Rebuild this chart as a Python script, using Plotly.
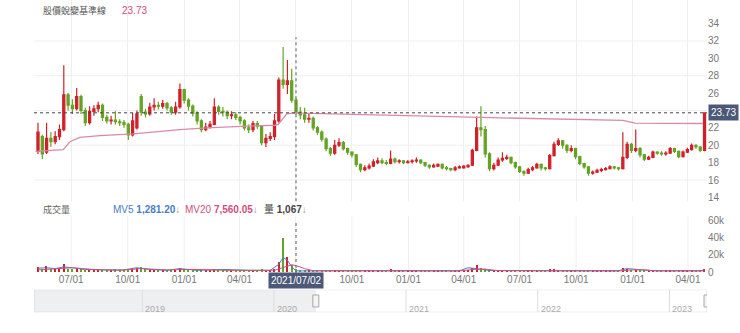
import pandas as pd
import plotly.graph_objects as go

W, H = 740, 333

# ---------------- data (weekly samples) ----------------
dates = pd.date_range("2020-05-08", periods=156, freq="7D")

opens = [19.3, 21.0, 19.2, 20.8, 20.4, 21.0, 21.8, 25.8, 24.6, 24.2,
         25.6, 24.0, 22.6, 23.9, 24.2, 24.6, 23.2, 22.8, 22.9, 22.7,
         22.6, 22.4, 21.2, 22.0, 25.6, 23.8, 23.6, 24.4, 24.6, 24.5,
         24.8, 24.3, 23.8, 24.4, 26.4, 25.2, 24.5, 23.7, 22.8, 21.8,
         22.1, 22.4, 24.4, 23.9, 23.8, 23.4, 23.5, 23.2, 22.8, 22.0,
         21.8, 22.5, 22.2, 20.3, 20.8, 21.0, 22.8, 27.5, 27.0, 27.4,
         25.2, 23.8, 23.5, 23.0, 23.1, 22.0, 21.5, 20.7, 19.6, 19.1,
         20.0, 20.3, 19.6, 19.2, 18.9, 17.8, 17.2, 17.4, 17.6, 18.0,
         18.2, 18.0, 17.9, 18.4, 18.1, 18.2, 18.0, 18.1, 18.2, 18.3,
         18.0, 17.7, 17.5, 17.6, 17.8, 17.4, 17.3, 17.2, 17.4, 17.4,
         17.5, 17.7, 19.4, 22.0, 21.8, 19.0, 17.3, 17.7, 18.3, 18.5,
         18.6, 18.0, 17.5, 17.0, 16.8, 17.2, 17.4, 17.8, 17.4, 17.3,
         18.8, 20.1, 20.5, 20.0, 19.4, 19.6, 18.7, 17.9, 17.5, 16.8,
         16.9, 17.1, 17.2, 17.3, 17.5, 17.4, 17.3, 18.6, 20.1, 19.4,
         19.6, 18.9, 18.4, 18.6, 19.2, 19.1, 19.0, 19.1, 19.6, 19.3,
         18.7, 19.2, 19.5, 20.0, 19.8, 19.4]
closes = [21.5, 19.0, 20.8, 20.4, 21.0, 21.8, 25.8, 24.6, 24.2, 25.6,
          24.0, 22.6, 23.9, 24.2, 24.6, 23.2, 22.8, 22.9, 22.7, 22.6,
          22.4, 21.2, 22.8, 23.6, 23.8, 23.6, 24.4, 24.6, 24.5, 24.8,
          24.3, 23.8, 24.4, 26.4, 25.2, 24.5, 23.7, 22.8, 21.8, 22.1,
          22.4, 24.4, 23.9, 23.8, 23.4, 23.5, 23.2, 22.8, 22.0, 21.8,
          22.5, 22.2, 20.3, 20.8, 21.0, 22.8, 27.5, 27.0, 27.4, 25.2,
          23.8, 23.5, 23.0, 23.1, 22.0, 21.5, 20.7, 19.6, 19.1, 20.0,
          20.3, 19.6, 19.2, 18.9, 17.8, 17.2, 17.4, 17.6, 18.1, 18.2,
          18.0, 17.9, 18.4, 18.1, 18.2, 18.0, 18.1, 18.2, 18.3, 18.0,
          17.7, 17.5, 17.7, 17.8, 17.4, 17.3, 17.2, 17.4, 17.5, 17.6,
          17.7, 19.4, 22.0, 21.8, 19.0, 17.3, 17.7, 18.3, 18.5, 18.6,
          18.0, 17.5, 17.0, 16.8, 17.2, 17.4, 17.8, 17.4, 17.3, 18.8,
          20.1, 20.5, 20.0, 19.4, 19.6, 18.7, 17.9, 17.5, 16.8, 16.9,
          17.1, 17.2, 17.3, 17.5, 17.4, 17.3, 18.6, 20.1, 19.4, 19.6,
          18.9, 18.4, 18.6, 19.2, 19.1, 19.0, 19.1, 19.6, 19.3, 18.7,
          19.2, 19.5, 20.0, 19.8, 19.4, 23.73]
highs = [22.6, 21.2, 22.6, 21.5, 21.6, 22.4, 29.2, 26.0, 25.3, 26.6,
         25.8, 24.3, 24.5, 24.6, 25.0, 24.8, 23.5, 23.4, 23.9, 23.0,
         22.9, 22.6, 23.7, 24.0, 25.9, 24.2, 24.9, 25.4, 25.0, 25.2,
         25.0, 24.5, 25.0, 27.1, 26.5, 25.4, 24.7, 23.9, 23.0, 22.6,
         22.8, 25.4, 24.6, 24.4, 24.0, 23.9, 23.8, 23.4, 23.0, 22.4,
         22.8, 22.8, 22.3, 21.3, 21.5, 23.6, 27.8, 31.3, 29.8, 28.8,
         25.4, 24.4, 24.3, 23.6, 23.3, 22.2, 21.7, 20.9, 19.8, 20.6,
         20.8, 20.5, 19.7, 19.3, 19.0, 17.9, 17.7, 17.9, 18.4, 18.6,
         18.5, 18.3, 19.4, 18.6, 18.4, 18.3, 18.3, 18.4, 18.6, 18.4,
         18.1, 17.8, 17.9, 17.9, 17.9, 17.6, 17.4, 17.6, 17.7, 17.7,
         17.8, 19.6, 23.3, 24.5, 22.2, 19.2, 18.0, 18.6, 19.2, 18.9,
         18.7, 18.1, 17.6, 17.1, 17.4, 17.6, 18.0, 17.9, 17.5, 19.0,
         20.4, 20.8, 20.6, 20.1, 20.0, 19.7, 18.8, 18.0, 17.6, 17.1,
         17.3, 17.4, 17.5, 17.7, 17.6, 17.5, 21.5, 20.4, 20.3, 21.8,
         19.8, 19.0, 18.8, 19.4, 19.3, 19.3, 19.3, 19.8, 19.7, 19.4,
         19.4, 19.7, 20.2, 20.1, 19.9, 23.73]
lows = [19.0, 18.4, 19.0, 19.8, 20.1, 20.6, 21.6, 24.0, 23.6, 24.0,
        23.6, 22.2, 22.4, 23.4, 23.8, 22.8, 22.5, 22.4, 22.4, 22.2,
        22.0, 20.6, 21.0, 21.8, 23.4, 23.2, 23.4, 24.0, 24.1, 24.2,
        24.0, 23.5, 23.5, 24.2, 24.8, 24.0, 23.3, 22.4, 21.5, 21.6,
        21.9, 22.3, 23.5, 23.3, 23.0, 23.0, 22.9, 22.4, 21.7, 21.4,
        21.5, 21.9, 20.0, 19.8, 20.5, 20.6, 22.6, 26.5, 25.9, 24.9,
        23.5, 23.0, 22.6, 22.6, 21.7, 21.2, 20.4, 19.3, 18.8, 18.9,
        19.8, 19.4, 18.9, 18.6, 17.5, 16.9, 17.0, 17.2, 17.5, 17.8,
        17.8, 17.7, 17.8, 17.9, 17.9, 17.8, 17.9, 17.9, 18.0, 17.8,
        17.5, 17.3, 17.4, 17.5, 17.2, 17.1, 17.0, 17.0, 17.3, 17.3,
        17.4, 17.6, 19.3, 21.0, 18.6, 17.0, 17.1, 17.6, 18.1, 18.3,
        17.8, 17.3, 16.8, 16.5, 16.7, 17.0, 17.3, 17.1, 17.1, 17.2,
        18.7, 19.9, 19.6, 19.1, 19.2, 18.4, 17.7, 17.3, 16.5, 16.6,
        16.8, 16.9, 17.1, 17.2, 17.2, 17.1, 17.2, 18.4, 19.1, 19.2,
        18.6, 18.2, 18.3, 18.5, 18.9, 18.8, 18.8, 19.0, 19.1, 18.5,
        18.6, 19.1, 19.4, 19.6, 19.2, 19.3]

# volume in thousands of lots
volume = [6, 3, 7, 3, 3, 4, 9, 4, 3, 5,
          3, 2, 2, 2, 3, 2, 2, 2, 3, 2,
          2, 3, 4, 5, 6, 3, 2, 2, 2, 2,
          2, 2, 2, 5, 3, 2, 2, 2, 3, 2,
          2, 4, 2, 2, 2, 2, 2, 2, 2, 2,
          2, 2, 3, 2, 2, 3, 12, 40, 18, 8,
          3, 2, 2, 2, 1.5, 1.5, 1.5, 1.5, 1.5, 2,
          1.5, 1.5, 1.5, 1.5, 1.5, 1.5, 1.5, 1.5, 1.5, 1.5,
          1.5, 1.5, 3, 1.5, 1.5, 1.5, 1.5, 1.5, 1.5, 1.5,
          1.5, 1.5, 1.5, 1.5, 1.5, 1.5, 1.5, 1.5, 1.5, 1.5,
          1.5, 5, 8, 5, 3, 2, 1.5, 1.5, 2, 1.5,
          1.5, 1.5, 1.5, 1.5, 1.5, 1.5, 1.5, 1.5, 1.5, 3,
          3, 2, 1.5, 1.5, 1.5, 1.5, 1.5, 1.5, 1.5, 1.5,
          1.5, 1.5, 1.5, 1.5, 1.5, 1.5, 5, 3, 2, 4,
          2, 1.5, 1.5, 1.5, 1.5, 1.5, 1.5, 1.5, 1.5, 1.5,
          1.5, 1.5, 1.5, 1.5, 1.5, 4]

baseline_dates = ["2020-05-04", "2020-06-18", "2020-06-29", "2020-07-15", "2020-08-17",
                  "2020-10-10", "2020-12-25", "2021-02-07", "2021-04-13", "2021-05-29",
                  "2021-06-03", "2021-06-17", "2021-06-26", "2021-07-09", "2022-04-28",
                  "2022-10-07", "2022-12-16", "2023-01-05", "2023-04-25"]
baseline_values = [19.3, 19.5, 20.4, 20.9, 21.1, 21.3, 21.8, 22.0, 22.2, 22.3,
                   22.4, 23.6, 23.7, 23.7, 23.2, 22.96, 22.85, 22.55, 22.5]

mv5_dates = ["2020-05-08", "2020-05-22", "2020-06-05", "2020-06-19", "2020-07-03", "2020-07-24",
             "2020-08-21", "2020-09-25", "2020-10-16", "2020-11-06", "2020-12-04", "2020-12-25",
             "2021-01-22", "2021-03-05", "2021-04-16", "2021-05-21", "2021-06-04", "2021-06-11",
             "2021-06-18", "2021-06-25", "2021-07-02", "2021-07-23", "2021-10-29", "2022-03-25",
             "2022-04-08", "2022-04-22", "2022-05-13", "2022-08-19", "2022-12-09", "2022-12-23",
             "2023-01-13", "2023-02-03", "2023-04-21", "2023-04-28"]
mv5_values = [4.5, 5, 4, 6, 5, 3, 2.5, 2.5, 5, 3,
              2, 4, 2, 3, 2, 2, 9, 17, 14, 6,
              1.3, 1.5, 1.6, 1.5, 5, 4, 1.8, 1.6, 1.6, 4,
              2.5, 1.5, 1.5, 2.5]

mv20_dates = ["2020-05-08", "2020-06-05", "2020-07-03", "2020-08-07", "2020-09-18", "2020-10-23",
              "2020-12-04", "2021-01-15", "2021-03-12", "2021-05-28", "2021-06-11", "2021-06-25",
              "2021-07-02", "2021-07-16", "2021-07-30", "2022-03-25", "2022-04-15", "2022-05-06",
              "2022-05-27", "2022-12-09", "2022-12-30", "2023-01-20", "2023-02-10", "2023-04-28"]
mv20_values = [2.5, 4, 5, 3, 2, 4, 2.5, 3, 2, 2,
               5, 8.5, 7.56, 4, 1.5, 1.2, 3, 3.5, 1.5, 1.2,
               2.5, 2.5, 1.3, 1.3]

# 24 sits under the price tag in the reference, so it is not shown
price_ticks = [14, 16, 18, 20, 22, 26, 28, 30, 32, 34]
price_grid = [16, 20, 24, 28, 32]
vol_ticks = [0, 20, 40, 60]
vol_tick_text = ["0", "20k", "40k", "60k"]
# quarter ticks; 2021-07-01 is hidden under the crosshair date tag
x_ticks = ["2020-07-01", "2020-10-01", "2021-01-01", "2021-04-01", "2021-10-01",
           "2022-01-01", "2022-04-01", "2022-07-01", "2022-10-01", "2023-01-01", "2023-04-01"]
x_grid = ["2020-07-01", "2020-10-01", "2021-01-01", "2021-04-01", "2021-07-01", "2021-10-01",
          "2022-01-01", "2022-04-01", "2022-07-01", "2022-10-01", "2023-01-01", "2023-04-01"]

title_label = "股價蛻變基準線"
title_value = "23.73"
vol_title = "成交量"
mv5_label, mv5_text = "MV5", "1,281.20"
mv20_label, mv20_text = "MV20", "7,560.05"
qty_label, qty_text = "量", "1,067"
crosshair_date = "2021-07-02"
crosshair_text = "2021/07/02"

nav_start, nav_end = "2018-03-07", "2023-04-15"
nav_sel_start = "2020-04-26"
nav_years = [2019, 2020, 2021, 2022, 2023]

x_range = ["2020-05-01 12:00", "2023-05-02"]

# ---------------- styling ----------------
RED = "#d0202a"
GREEN = "#64a324"
PINK = "#d98aa8"
BLUE = "#4a7cc7"
MVPINK = "#d2507c"
TAG_BG = "#4b5877"
TICK = "#777777"
GRID = "#efefef"
FONT = "Liberation Sans, Noto Sans CJK TC, sans-serif"
CJK = "Noto Sans CJK TC, sans-serif"


def px(p):
    return p / W


def py(p):
    return 1 - p / H


XDOM = [px(34), px(707)]

vol_colors = [RED if c >= o else GREEN for o, c in zip(opens, closes)]

fig = go.Figure()
fig.add_trace(go.Candlestick(
    x=dates, open=opens, high=highs, low=lows, close=closes,
    increasing=dict(line=dict(color=RED, width=1.2), fillcolor=RED),
    decreasing=dict(line=dict(color=GREEN, width=1.2), fillcolor=GREEN),
    whiskerwidth=0, hoverinfo="skip", showlegend=False, xaxis="x", yaxis="y"))
fig.add_trace(go.Scatter(
    x=baseline_dates, y=baseline_values, mode="lines",
    line=dict(color=PINK, width=1.3), hoverinfo="skip", showlegend=False,
    xaxis="x", yaxis="y"))
fig.add_trace(go.Bar(
    x=dates, y=volume, marker=dict(color=vol_colors, line=dict(width=0)),
    width=86400000 * 2, hoverinfo="skip", showlegend=False, xaxis="x2", yaxis="y2"))
fig.add_trace(go.Scatter(
    x=mv5_dates, y=mv5_values, mode="lines", line=dict(color=BLUE, width=1),
    hoverinfo="skip", showlegend=False, xaxis="x2", yaxis="y2"))
fig.add_trace(go.Scatter(
    x=mv20_dates, y=mv20_values, mode="lines", line=dict(color=MVPINK, width=1),
    hoverinfo="skip", showlegend=False, xaxis="x2", yaxis="y2"))
fig.add_trace(go.Scatter(
    x=[nav_start, nav_end], y=[0.5, 0.5], mode="lines", opacity=0,
    hoverinfo="skip", showlegend=False, xaxis="x3", yaxis="y3"))

shapes = []
for v in price_grid:
    shapes.append(dict(type="line", xref="paper", yref="y", x0=XDOM[0], x1=XDOM[1],
                       y0=v, y1=v, line=dict(color=GRID, width=1), layer="below"))
# last price dashed line
shapes.append(dict(type="line", xref="paper", yref="y", x0=XDOM[0], x1=XDOM[1],
                   y0=closes[-1], y1=closes[-1], line=dict(color="#444", width=1, dash="3px,3px")))
# crosshair
shapes.append(dict(type="line", xref="x", yref="paper", x0=crosshair_date, x1=crosshair_date,
                   y0=py(205), y1=py(38), line=dict(color="#777", width=1.2, dash="dot")))
shapes.append(dict(type="line", xref="x2", yref="paper", x0=crosshair_date, x1=crosshair_date,
                   y0=py(279), y1=py(224), line=dict(color="#777", width=1.2, dash="dot")))
# navigator
shapes.append(dict(type="rect", xref="x3", yref="y3", x0=nav_start, x1=nav_sel_start, y0=0, y1=1,
                   fillcolor="#edeff1", line=dict(width=0), layer="below"))
for yr in nav_years:
    shapes.append(dict(type="line", xref="x3", yref="y3", x0=f"{yr}-01-01", x1=f"{yr}-01-01",
                       y0=0, y1=1, line=dict(color="#dddddd", width=1)))
shapes.append(dict(type="rect", xref="x3", yref="y3", x0=nav_start, x1=nav_end, y0=0, y1=1,
                   line=dict(color="#d6d9dd", width=1)))
for hx in [nav_sel_start, nav_end]:
    shapes.append(dict(type="rect", xref="x3", yref="y3", xsizemode="pixel", xanchor=hx,
                       x0=-3, x1=3, ysizemode="pixel", yanchor=0.5, y0=-6, y1=6,
                       fillcolor="#f4f4f4", line=dict(color="#a8a8a8", width=1)))

annotations = [
    dict(text=title_label, xref="paper", yref="paper", x=px(41), y=py(11), xanchor="left",
         yanchor="middle", showarrow=False, font=dict(family=CJK, size=9, color="#555")),
    dict(text=title_value, xref="paper", yref="paper", x=px(120), y=py(11), xanchor="left",
         yanchor="middle", showarrow=False, font=dict(family=FONT, size=10, color="#c8507d")),
    dict(text=f"{closes[-1]:.2f}", xref="paper", yref="y", x=px(708), y=closes[-1],
         xanchor="left", yanchor="middle", showarrow=False, bgcolor=TAG_BG, borderpad=2,
         font=dict(family=FONT, size=10, color="white")),
    dict(text=vol_title, xref="paper", yref="paper", x=px(41), y=py(213), xanchor="left",
         yanchor="middle", showarrow=False, font=dict(family=CJK, size=9, color="#666")),
    dict(text=f"{mv5_label} <b>{mv5_text}</b><span style='color:#999'>↓</span>", xref="paper",
         yref="paper", x=px(111), y=py(213), xanchor="left", yanchor="middle", showarrow=False,
         font=dict(family=FONT, size=10, color=BLUE)),
    dict(text=f"{mv20_label} <b>{mv20_text}</b><span style='color:#999'>↓</span>", xref="paper",
         yref="paper", x=px(183), y=py(213), xanchor="left", yanchor="middle", showarrow=False,
         font=dict(family=FONT, size=10, color=MVPINK)),
    dict(text=f"{qty_label} <b>{qty_text}</b><span style='color:#999'>↓</span>", xref="paper",
         yref="paper", x=px(262), y=py(213), xanchor="left", yanchor="middle", showarrow=False,
         font=dict(family=FONT, size=10, color="#444")),
    dict(text=crosshair_text, xref="x2", yref="paper", x=crosshair_date, y=py(286),
         xanchor="center", yanchor="middle", showarrow=False, bgcolor=TAG_BG, borderpad=2,
         font=dict(family=FONT, size=10, color="white")),
]
for yr in nav_years:
    annotations.append(dict(text=str(yr), xref="x3", yref="y3", x=f"{yr}-01-01", y=0,
                            xanchor="left", yanchor="bottom", xshift=1, yshift=-4,
                            showarrow=False, font=dict(family=FONT, size=9, color="#aaaaaa")))

fig.update_layout(
    width=W, height=H, margin=dict(l=0, r=0, t=0, b=0),
    paper_bgcolor="white", plot_bgcolor="white", showlegend=False,
    font=dict(family=FONT, size=10, color=TICK),
    bargap=0,
    xaxis=dict(domain=XDOM, type="date", range=x_range, anchor="y",
               showticklabels=False, showgrid=True, gridcolor=GRID,
               tickmode="array", tickvals=x_grid, zeroline=False, showline=False,
               rangeslider=dict(visible=False)),
    xaxis2=dict(domain=XDOM, type="date", range=x_range, anchor="y2", matches="x",
                showticklabels=True, tickformat="%m/%d", ticks="",
                tickfont=dict(size=10, color=TICK), showgrid=False,
                tickmode="array", tickvals=x_ticks, zeroline=False, showline=False),
    yaxis=dict(domain=[py(205), py(0)], range=[13.55, 36.71], anchor="x", side="right",
               tickmode="array", tickvals=price_ticks, showgrid=False, zeroline=False,
               ticks="", tickfont=dict(size=10, color=TICK)),
    yaxis2=dict(domain=[py(277), py(220)], range=[0, 65.8], anchor="x2", side="right",
                tickmode="array", tickvals=vol_ticks, ticktext=vol_tick_text,
                showgrid=False, zeroline=False, ticks="", tickfont=dict(size=10, color=TICK)),
    xaxis3=dict(domain=XDOM, type="date", range=[nav_start, nav_end], anchor="y3",
                visible=False),
    yaxis3=dict(domain=[py(318), py(295)], range=[0, 1], anchor="x3", visible=False),
    shapes=shapes, annotations=annotations,
)

# vertical quarter gridlines in the volume panel
for d in x_grid:
    fig.add_shape(type="line", xref="x2", yref="paper", x0=d, x1=d, y0=py(277), y1=py(220),
                  line=dict(color=GRID, width=1), layer="below")

fig.write_html("out.html")
